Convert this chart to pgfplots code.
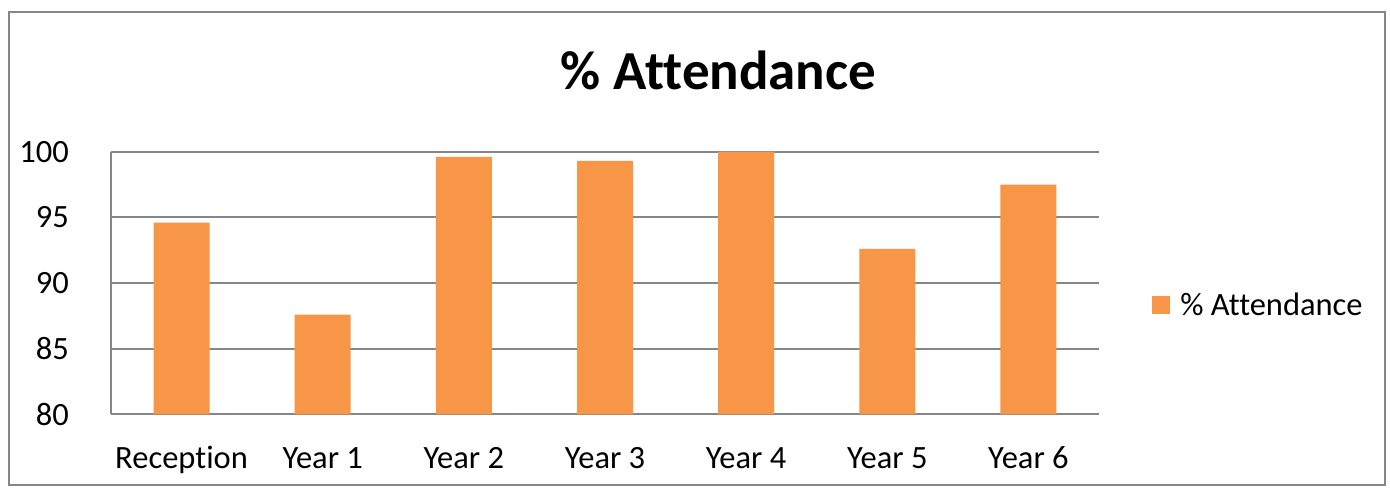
\documentclass[border=0pt]{standalone}
\usepackage{pgfplots}
\pgfplotsset{compat=1.18}
\usepackage{fontspec}
\setmainfont{Carlito}[Ligatures={NoCommon}]
\definecolor{barorange}{HTML}{F79646}
\definecolor{gridgray}{HTML}{868686}
\begin{document}
\begin{tikzpicture}[x=1pt,y=1pt]
\useasboundingbox (0,0) rectangle (1390,488);
\fill[white] (0,0) rectangle (1390,488);
\draw[gridgray, line width=1.8pt] (9,3) rectangle (1385,476);
\node[font=\fontsize{55}{62}\bfseries\selectfont, anchor=base, inner sep=0pt] at (718.5,398) {\% Attendance};
\begin{axis}[
  at={(111pt,73.7pt)}, anchor=south west,
  scale only axis, width=988pt, height=262.6pt,
  xmin=-0.5, xmax=6.5, ymin=80, ymax=100,
  ytick={80,85,90,95,100},
  xtick={0,1,2,3,4,5,6},
  xticklabels={Reception,Year 1,Year 2,Year 3,Year 4,Year 5,Year 6},
  ymajorgrids, grid style={gridgray, line width=1.8pt},
  axis lines*=left,
  axis line style={gridgray, line width=1.8pt, -},
  major tick length=0pt,
  /pgf/number format/assume math mode=true,
  ticklabel style={font=\fontsize{32.5}{38}\selectfont, text=black, inner sep=0pt},
  yticklabel style={anchor=east, xshift=-42pt},
  xticklabel style={anchor=base, yshift=-54pt},
  legend style={at={(1.0537,0.416)}, anchor=west, draw=none, fill=none,
    font=\fontsize{32.5}{38}\selectfont, inner sep=0pt, nodes={inner sep=0pt}},
  legend cell align=left,
  legend image code/.code={\fill[barorange] (0pt,-9pt) rectangle (18pt,9pt); \path (28pt,0pt);},
]
\addplot[ybar, bar width=56pt, fill=barorange, draw=none, bar shift=0pt]
  coordinates {(0,94.6) (1,87.6) (2,99.6) (3,99.3) (4,100) (5,92.6) (6,97.5)};
\addlegendentry{\% Attendance}
\end{axis}
\end{tikzpicture}
\end{document}
